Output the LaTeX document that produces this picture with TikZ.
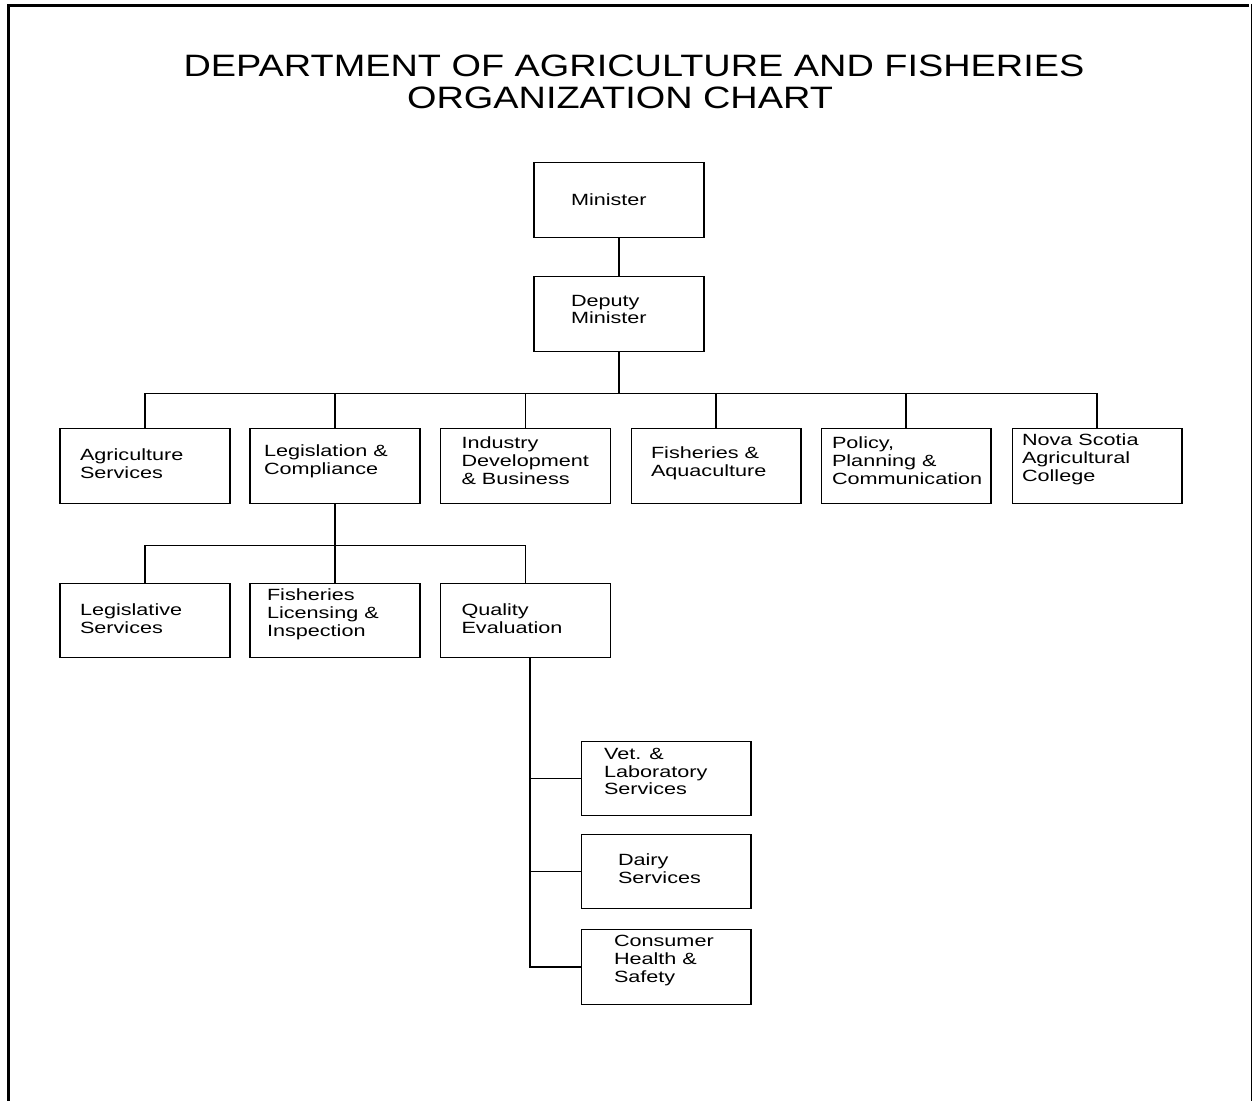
\documentclass[tikz,border=0pt]{standalone}
\usepackage{fontspec}
\usetikzlibrary{calc,positioning}

\newfontfamily\boxfont[FakeStretch=1.33]{Liberation Sans}
\newfontfamily\headfont[FakeStretch=1.225]{Liberation Sans}

\begin{document}
\begin{tikzpicture}[
    x=0.02cm, y=-0.02cm,
    line width=0.6pt,
    box/.style={draw, minimum width=3.4cm, minimum height=1.49cm, inner sep=0pt},
    txt/.style={anchor=west, align=left, inner sep=0pt, yshift=-0.03cm,
      font=\boxfont\fontsize{9.25}{10.2}\selectfont},
    head/.style={inner sep=0pt, font=\headfont\fontsize{17.6}{18}\selectfont},
  ]
  \useasboundingbox (0,0) rectangle (1253,1101);

  % ---- frame (open at the bottom) ------------------------------------
  \draw[line width=1.7pt] (8.5,1101) -- (8.5,5.5) -- (1249,5.5);
  \draw[line width=0.8pt] (1251.5,4) -- (1251.5,1101);

  % ---- title ---------------------------------------------------------
  \node[head] (ttla) at (634,66) {DEPARTMENT OF AGRICULTURE AND FISHERIES};
  \node[head] (ttlb) at (620,98) {ORGANIZATION CHART};

  % ---- top ---------------------------------------------------------
  \node[box] (min) at (619,200) {};
  \node[box] (dep) at (619,314) {};

  % ---- divisions -----------------------------------------------------
  \node[box] (agr) at (145,466) {};
  \node[box] (leg) at (335,466) {};
  \node[box] (ind) at (525.5,466) {};
  \node[box] (fsh) at (716,466) {};
  \node[box] (pol) at (906,466) {};
  \node[box] (nsc) at (1097,466) {};

  % ---- legislation & compliance --------------------------------------
  \node[box] (lsv) at (145,620.5) {};
  \node[box] (fli) at (335,620.5) {};
  \node[box] (qev) at (525.5,620.5) {};

  % ---- quality evaluation --------------------------------------------
  \node[box] (vet) at (666,778.5) {};
  \node[box] (dry) at (666,871.5) {};
  \node[box] (chs) at (666,967) {};

  % ---- box texts -----------------------------------------------------
  \node[txt] (tmin) at ($(min.west)+(37,-2)$) {Minister};
  \node[txt] (tdep) at ($(dep.west)+(37,-6)$) {Deputy\\Minister};
  \node[txt] (tagr) at ($(agr.west)+(20,-4)$) {Agriculture\\Services};
  \node[txt] (tleg) at ($(leg.west)+(14,-6)$) {Legislation \&\\Compliance};
  \node[txt] (tind) at ($(ind.west)+(21,-7)$) {Industry\\Development\\\& Business};
  \node[txt] (tfsh) at ($(fsh.west)+(20,-4)$) {Fisheries \&\\Aquaculture};
  \node[txt] (tpol) at ($(pol.west)+(11,-7)$) {Policy,\\Planning \&\\Communication};
  \node[txt] (tnsc) at ($(nsc.west)+(10,-8)$) {Nova Scotia\\Agricultural\\College};
  \node[txt] (tlsv) at ($(lsv.west)+(20,-3.5)$) {Legislative\\Services};
  \node[txt] (tfli) at ($(fli.west)+(17,-7.5)$) {Fisheries\\Licensing \&\\Inspection};
  \node[txt] (tqev) at ($(qev.west)+(21,-3.5)$) {Quality\\Evaluation};
  \node[txt] (tvet) at ($(vet.west)+(23,-8.5)$) {Vet. \&\\Laboratory\\Services};
  \node[txt] (tdry) at ($(dry.west)+(37,-4.5)$) {Dairy\\Services};
  \node[txt] (tchs) at ($(chs.west)+(33,-8)$) {Consumer\\Health \&\\Safety};

  % ---- connectors ----------------------------------------------------
  \draw (min) -- (dep);
  \draw (dep.south) -- ++(0,42) coordinate (bus);
  \draw (agr.north) |- (bus) -| (nsc.north);
  \draw (leg.north) -- (leg.north |- bus);
  \draw (ind.north) -- (ind.north |- bus);
  \draw (fsh.north) -- (fsh.north |- bus);
  \draw (pol.north) -- (pol.north |- bus);

  \draw (leg.south) -- (fli.north);
  \draw (lsv.north) |- ($(leg.south)+(0,42)$) -| (qev.north);

  \coordinate (qtop) at ($(qev.south)+(4.5,0)$);
  \draw (qtop) |- (chs.west);
  \draw (vet.west) -- (vet.west -| qtop);
  \draw (dry.west) -- (dry.west -| qtop);

\end{tikzpicture}
\end{document}
